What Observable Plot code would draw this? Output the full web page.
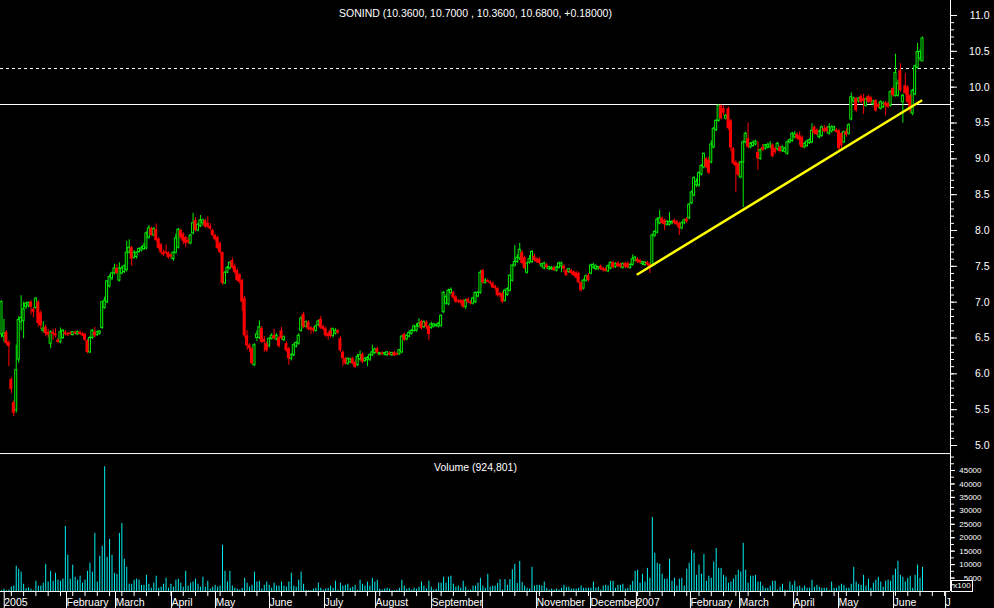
<!DOCTYPE html>
<html><head><meta charset="utf-8">
<script src="https://cdn.jsdelivr.net/npm/d3@7"></script>
<script src="https://cdn.jsdelivr.net/npm/@observablehq/plot@0.6"></script>
<style>
html,body{margin:0;padding:0;background:#000;}
#wrap{position:relative;width:994px;height:608px;background:#000;overflow:hidden;font-family:"Liberation Sans",Arial,sans-serif;}
#price{position:absolute;left:0;top:0;}
#vol{position:absolute;left:0;top:451px;}
#x100{position:absolute;left:951px;top:580px;width:20px;height:10px;border:1px solid #fff;color:#fff;font-size:8px;line-height:10px;text-align:center;font-family:"Liberation Sans",Arial,sans-serif;}
</style></head>
<body><div id="wrap"><div id="price"></div><div id="vol"></div><div id="x100">x100</div></div>
<script>
const titleText = "SONIND (10.3600, 10.7000 , 10.3600, 10.6800, +0.18000)";
const volumeTitle = "Volume (924,801)";
const monthLabels = ["2005","February","March","April","May","June","July","August","September","","November","December","2007","February","March","April","May","June","J"];
const monthTicks = [0.3,25.65,45.6,68.4,86.3,108.3,130.7,151.5,174.3,195.0,217.0,239.0,257.7,279.7,299.7,321.7,340.0,362.4,383.6];
const priceTicks = [5.0,5.5,6.0,6.5,7.0,7.5,8.0,8.5,9.0,9.5,10.0,10.5,11.0];
const volumeTicks = [5000,10000,15000,20000,25000,30000,35000,40000,45000];
const resistanceLevel = 9.758;
const dashedLevel = 10.26;
const trendIdx = [259.0, 374.5];
const trendPrice = [7.39, 9.81];

const opens = [6.55,6.52,6.58,6.44,5.92,5.6,5.49,6.2,6.72,6.74,
6.93,6.95,7.0,6.9,6.92,7.0,6.85,6.6,6.65,6.58,
6.42,6.58,6.56,6.47,6.44,6.5,6.58,6.56,6.57,6.54,
6.58,6.55,6.58,6.56,6.55,6.46,6.3,6.5,6.58,6.54,
6.56,6.64,6.92,7.0,7.22,7.33,7.4,7.47,7.3,7.4,
7.42,7.45,7.69,7.76,7.62,7.63,7.7,7.72,7.74,7.75,
7.9,8.03,7.93,8.01,7.88,7.8,7.69,7.7,7.69,7.66,
7.6,7.69,7.76,8.0,7.95,7.9,7.86,7.82,7.96,8.14,
8.0,8.06,8.1,8.14,8.1,8.06,8.0,7.93,7.9,7.82,
7.69,7.26,7.41,7.47,7.58,7.5,7.44,7.38,7.3,7.05,
6.53,6.4,6.35,6.12,6.5,6.5,6.63,6.48,6.42,6.39,
6.49,6.53,6.48,6.5,6.6,6.47,6.42,6.35,6.21,6.26,
6.38,6.42,6.6,6.83,6.66,6.72,6.64,6.63,6.6,6.68,
6.76,6.66,6.63,6.56,6.6,6.53,6.56,6.6,6.49,6.3,
6.21,6.14,6.16,6.21,6.16,6.12,6.2,6.27,6.18,6.19,
6.2,6.26,6.29,6.35,6.27,6.29,6.27,6.26,6.29,6.26,
6.3,6.28,6.27,6.3,6.55,6.48,6.52,6.56,6.6,6.6,
6.66,6.73,6.65,6.72,6.66,6.64,6.66,6.67,6.66,6.67,
6.86,6.98,6.97,7.13,7.13,7.07,7.02,7.02,7.02,6.93,
7.04,7.0,6.98,7.0,7.08,7.13,7.44,7.27,7.3,7.28,
7.26,7.22,7.19,7.12,7.12,7.02,7.1,7.16,7.3,7.51,
7.56,7.61,7.69,7.62,7.41,7.55,7.56,7.64,7.6,7.6,
7.5,7.47,7.52,7.46,7.46,7.48,7.44,7.48,7.5,7.5,
7.44,7.42,7.44,7.42,7.41,7.4,7.27,7.19,7.3,7.37,
7.4,7.48,7.46,7.47,7.5,7.47,7.46,7.43,7.47,7.55,
7.49,7.54,7.53,7.48,7.54,7.54,7.48,7.52,7.58,7.6,
7.58,7.53,7.52,7.55,7.53,7.51,7.93,7.97,8.1,8.17,
8.14,8.08,8.08,8.1,8.14,8.12,8.1,8.03,8.1,8.16,
8.17,8.38,8.49,8.63,8.63,8.78,8.88,9.0,8.98,8.95,
9.16,9.4,9.53,9.74,9.7,9.56,9.7,9.53,9.14,8.95,
8.93,8.74,8.95,9.23,9.28,9.16,9.18,9.2,9.09,9.0,
9.16,9.14,9.16,9.16,9.19,9.14,9.13,9.16,9.11,9.1,
9.07,9.23,9.25,9.3,9.34,9.32,9.3,9.16,9.18,9.22,
9.23,9.44,9.4,9.3,9.32,9.42,9.43,9.35,9.38,9.4,
9.4,9.39,9.35,9.23,9.38,9.35,9.55,9.8,9.84,9.8,
9.87,9.84,9.74,9.87,9.85,9.76,9.81,9.76,9.7,9.72,
9.78,9.77,9.74,9.98,9.88,9.88,10.23,9.79,10.02,10.0,
9.88,9.63,9.9,10.27,10.4,10.36];

const highs = [7.02,6.76,6.6,6.46,5.95,5.62,6.4,6.8,7.09,7.0,
7.0,7.0,7.02,6.92,7.06,7.02,6.88,6.73,6.68,6.62,
6.6,6.62,6.63,6.5,6.64,6.62,6.6,6.58,6.59,6.59,
6.6,6.6,6.6,6.58,6.57,6.48,6.52,6.62,6.65,6.6,
6.6,7.0,7.07,7.3,7.38,7.42,7.53,7.52,7.55,7.5,
7.52,7.85,7.87,7.78,7.72,7.7,7.76,7.78,7.82,7.98,
8.07,8.05,8.04,8.09,7.9,7.82,7.73,7.8,7.7,7.68,
7.7,7.95,8.03,8.02,7.97,7.92,7.9,7.95,8.24,8.18,
8.1,8.21,8.16,8.16,8.19,8.1,8.02,7.95,7.92,7.84,
7.7,7.43,7.5,7.56,7.62,7.53,7.46,7.4,7.32,7.08,
6.6,6.42,6.37,6.42,6.6,6.74,6.66,6.52,6.44,6.5,
6.56,6.62,6.56,6.52,6.65,6.53,6.45,6.37,6.28,6.42,
6.45,6.56,6.8,6.86,6.74,6.74,6.66,6.65,6.68,6.75,
6.8,6.68,6.65,6.58,6.64,6.64,6.63,6.62,6.52,6.32,
6.23,6.22,6.22,6.23,6.18,6.27,6.32,6.29,6.23,6.24,
6.28,6.4,6.36,6.37,6.3,6.31,6.3,6.31,6.31,6.3,
6.31,6.3,6.34,6.53,6.57,6.55,6.6,6.62,6.68,6.7,
6.77,6.75,6.74,6.74,6.68,6.72,6.7,6.7,6.72,6.82,
7.15,7.1,7.18,7.2,7.15,7.09,7.04,7.04,7.04,7.04,
7.06,7.02,7.07,7.14,7.15,7.44,7.46,7.33,7.32,7.3,
7.28,7.24,7.21,7.14,7.14,7.18,7.2,7.38,7.52,7.79,
7.66,7.82,7.72,7.64,7.56,7.65,7.72,7.67,7.62,7.62,
7.54,7.56,7.54,7.5,7.5,7.5,7.5,7.56,7.56,7.52,
7.46,7.47,7.46,7.44,7.43,7.42,7.29,7.32,7.38,7.4,
7.53,7.54,7.52,7.5,7.52,7.49,7.48,7.52,7.56,7.57,
7.55,7.56,7.55,7.55,7.56,7.56,7.54,7.66,7.64,7.62,
7.6,7.57,7.57,7.57,7.55,7.95,8.0,8.18,8.28,8.19,
8.16,8.14,8.25,8.14,8.16,8.14,8.12,8.12,8.16,8.18,
8.38,8.55,8.75,8.72,8.82,8.92,9.08,9.02,9.02,9.25,
9.44,9.55,9.75,9.75,9.74,9.62,9.72,9.55,9.16,8.98,
8.95,8.96,9.25,9.37,9.5,9.23,9.25,9.26,9.24,9.14,
9.2,9.2,9.22,9.24,9.21,9.16,9.23,9.18,9.18,9.16,
9.25,9.28,9.37,9.38,9.36,9.38,9.32,9.23,9.26,9.28,
9.49,9.46,9.42,9.4,9.46,9.47,9.45,9.49,9.46,9.46,
9.42,9.41,9.37,9.39,9.42,9.49,9.92,9.86,9.86,9.85,
9.89,9.9,9.85,9.89,9.87,9.82,9.83,9.78,9.81,9.8,
9.8,9.79,9.95,10.0,10.46,10.1,10.33,9.9,10.19,10.02,
9.9,9.97,10.31,10.61,10.52,10.7];

const lows = [6.5,6.44,6.4,6.1,5.72,5.4,5.45,6.15,6.6,6.49,
6.9,6.92,6.82,6.78,6.9,6.65,6.62,6.57,6.52,6.5,
6.35,6.47,6.5,6.42,6.42,6.48,6.53,6.52,6.54,6.53,
6.54,6.54,6.54,6.52,6.45,6.28,6.28,6.48,6.5,6.52,
6.54,6.62,6.9,6.98,7.2,7.3,7.38,7.38,7.28,7.38,
7.4,7.42,7.67,7.5,7.6,7.6,7.68,7.7,7.72,7.73,
7.88,7.92,7.92,7.84,7.73,7.66,7.64,7.66,7.6,7.6,
7.57,7.67,7.74,7.88,7.8,7.76,7.8,7.8,7.94,7.98,
7.98,8.04,8.06,8.03,8.03,8.0,7.91,7.85,7.73,7.67,
7.24,7.25,7.4,7.45,7.46,7.39,7.28,7.25,6.87,6.5,
6.33,6.3,6.12,6.1,6.45,6.48,6.42,6.3,6.3,6.36,
6.47,6.48,6.46,6.36,6.47,6.45,6.3,6.12,6.18,6.24,
6.36,6.4,6.58,6.63,6.64,6.6,6.55,6.57,6.58,6.66,
6.62,6.6,6.51,6.47,6.5,6.5,6.54,6.55,6.3,6.1,
6.12,6.12,6.14,6.12,6.07,6.1,6.18,6.14,6.16,6.1,
6.17,6.24,6.27,6.27,6.25,6.25,6.25,6.24,6.25,6.24,
6.24,6.25,6.26,6.28,6.45,6.46,6.5,6.54,6.58,6.58,
6.64,6.61,6.63,6.62,6.46,6.62,6.64,6.65,6.64,6.65,
6.84,6.96,6.95,7.1,7.04,6.98,6.98,6.96,6.91,6.9,
6.98,6.96,6.96,6.98,7.06,7.11,7.25,7.25,7.27,7.24,
7.19,7.16,7.07,7.06,6.98,7.0,7.08,7.14,7.28,7.49,
7.54,7.58,7.52,7.45,7.39,7.53,7.54,7.56,7.54,7.52,
7.48,7.45,7.46,7.44,7.44,7.43,7.42,7.46,7.41,7.41,
7.36,7.4,7.38,7.36,7.32,7.26,7.14,7.17,7.28,7.28,
7.38,7.46,7.44,7.44,7.44,7.42,7.42,7.41,7.45,7.46,
7.47,7.48,7.47,7.46,7.47,7.46,7.46,7.5,7.56,7.54,
7.53,7.51,7.5,7.5,7.4,7.49,7.9,7.95,8.08,8.08,
8.0,8.06,8.06,8.08,8.08,8.06,7.93,8.01,8.08,8.1,
8.15,8.36,8.47,8.6,8.6,8.76,8.86,8.86,8.78,8.93,
9.14,9.38,9.51,9.54,9.6,9.54,9.4,9.1,8.91,8.53,
8.75,8.72,8.32,9.21,9.14,9.14,9.16,9.18,8.84,8.98,
9.1,9.12,9.14,9.14,9.01,9.06,9.11,9.08,9.09,9.08,
9.05,9.21,9.23,9.28,9.26,9.18,9.14,9.14,9.16,9.2,
9.21,9.33,9.32,9.28,9.3,9.36,9.36,9.33,9.36,9.38,
9.36,9.12,9.14,9.21,9.3,9.33,9.53,9.78,9.65,9.78,
9.77,9.62,9.72,9.77,9.76,9.74,9.65,9.7,9.68,9.7,
9.6,9.7,9.72,9.86,9.86,9.86,9.93,9.5,9.89,9.77,
9.63,9.6,9.88,10.25,10.36,10.36];

const closes = [7.0,6.56,6.42,6.38,5.78,5.45,6.05,6.75,6.78,6.9,
6.98,6.99,6.93,6.86,7.05,6.7,6.67,6.63,6.56,6.54,
6.58,6.55,6.53,6.44,6.58,6.6,6.55,6.54,6.55,6.58,
6.56,6.58,6.55,6.53,6.47,6.3,6.5,6.6,6.53,6.58,
6.59,7.0,7.02,7.29,7.35,7.4,7.47,7.4,7.47,7.47,
7.5,7.69,7.76,7.6,7.69,7.69,7.74,7.75,7.78,7.96,
8.03,7.93,8.02,7.86,7.75,7.69,7.66,7.68,7.62,7.63,
7.69,7.89,8.01,7.9,7.85,7.82,7.83,7.93,8.1,8.0,
8.08,8.14,8.14,8.05,8.05,8.02,7.93,7.87,7.75,7.69,
7.26,7.41,7.48,7.55,7.48,7.41,7.3,7.28,7.0,6.53,
6.39,6.35,6.14,6.4,6.55,6.65,6.44,6.44,6.32,6.49,
6.53,6.49,6.53,6.38,6.49,6.51,6.32,6.21,6.26,6.4,
6.43,6.53,6.77,6.65,6.72,6.62,6.61,6.6,6.66,6.73,
6.64,6.62,6.53,6.52,6.52,6.62,6.6,6.57,6.32,6.21,
6.14,6.21,6.2,6.14,6.09,6.24,6.26,6.16,6.21,6.22,
6.26,6.3,6.34,6.29,6.29,6.27,6.29,6.3,6.26,6.29,
6.25,6.26,6.33,6.52,6.47,6.53,6.57,6.6,6.66,6.66,
6.7,6.63,6.72,6.65,6.55,6.69,6.69,6.68,6.7,6.81,
7.13,7.07,7.16,7.17,7.06,7.0,7.0,6.99,6.93,7.02,
7.0,6.98,7.05,7.13,7.13,7.41,7.27,7.3,7.28,7.26,
7.2,7.19,7.09,7.09,7.0,7.16,7.18,7.37,7.51,7.56,
7.62,7.73,7.54,7.47,7.54,7.6,7.7,7.58,7.56,7.54,
7.53,7.54,7.48,7.49,7.48,7.44,7.48,7.54,7.54,7.46,
7.37,7.46,7.4,7.37,7.34,7.27,7.16,7.3,7.36,7.3,
7.51,7.52,7.5,7.49,7.46,7.44,7.43,7.5,7.55,7.48,
7.53,7.5,7.49,7.53,7.49,7.48,7.52,7.6,7.62,7.56,
7.55,7.56,7.55,7.52,7.5,7.93,7.98,8.15,8.17,8.1,
8.08,8.12,8.12,8.12,8.1,8.08,8.03,8.1,8.14,8.12,
8.36,8.53,8.73,8.68,8.8,8.9,9.07,8.88,8.8,9.2,
9.42,9.53,9.74,9.56,9.64,9.6,9.42,9.15,8.93,8.9,
8.77,8.95,9.23,9.35,9.16,9.21,9.22,9.24,9.0,9.12,
9.12,9.19,9.19,9.2,9.03,9.09,9.21,9.1,9.16,9.14,
9.23,9.26,9.35,9.34,9.28,9.26,9.16,9.21,9.24,9.26,
9.39,9.35,9.34,9.38,9.44,9.38,9.38,9.44,9.44,9.44,
9.37,9.14,9.18,9.37,9.33,9.47,9.86,9.84,9.67,9.84,
9.79,9.8,9.83,9.79,9.79,9.8,9.67,9.72,9.79,9.77,
9.74,9.72,9.93,9.88,10.2,10.05,9.95,9.88,9.91,9.79,
9.67,9.95,10.29,10.49,10.49,10.68];

const volumes = [300,900,200,500,1600,2000,9400,8300,7200,2700,
1000,1400,900,300,3800,2000,2000,3100,10100,3500,
7500,3800,6800,4200,3800,4600,24200,13500,4600,9800,
5300,4200,5700,3100,4200,7500,10500,7200,21600,3500,
13100,16800,46400,12700,19400,13500,6800,6400,21600,25300,
12000,9000,2700,2700,4200,4600,4200,2300,2300,6000,
2700,1200,3100,5700,1200,1600,2700,4900,1200,2700,
1600,4200,4600,3100,1600,7500,2000,3100,3500,4600,
2700,1600,5300,1600,3800,900,1600,2300,1600,2000,
17200,7500,3500,7500,2000,1200,900,500,1200,4900,
3100,1600,2300,7200,3500,3800,900,2300,3500,2300,
1200,3100,2000,2000,3500,2000,1600,3500,6800,2000,
1600,4200,7200,2700,500,300,300,900,1200,3100,
1200,500,900,1200,2000,1200,3800,500,3100,2000,
2300,2700,1200,1600,2300,500,4200,2700,2000,3500,
2000,4900,3500,4200,900,500,900,1200,900,300,
300,500,1200,4200,2000,900,1200,500,1200,900,
1600,3500,2000,1000,3800,1600,500,900,3100,3100,
5300,3100,5300,5700,2700,1600,2000,1200,3800,1600,
500,500,2000,2000,3100,4900,2000,1200,6400,1600,
2000,2000,3000,4400,500,4400,2300,4400,8100,10100,
3000,11200,3300,2000,1200,900,9000,2000,2300,2300,
2000,3500,1200,500,900,500,900,500,1200,2300,
1600,1600,900,900,900,1200,2000,1200,1200,1200,
1200,3500,1200,1600,500,2000,2300,2000,3800,3800,
1200,2300,2300,2700,900,1200,2300,3800,7500,7900,
3100,6400,3500,8600,4900,27500,14200,10500,10100,6400,
4600,4600,12000,3800,4900,2000,4600,4900,2000,8300,
10500,15300,14200,6000,9800,6400,13800,3800,5700,4900,
10900,16000,8600,8600,6000,5300,3100,3500,4600,6000,
7900,7200,17900,7900,3100,5700,5700,6000,3500,3500,
2000,1200,1200,2000,3800,3800,500,1600,2700,500,
300,3500,2300,3800,1600,2000,1200,2000,1200,1200,
4200,1600,2300,1600,1200,1200,1200,300,3500,1200,
1200,2000,2700,2300,1200,1200,2700,9000,3500,2700,
2300,6000,2000,4600,1200,3100,4200,5300,3500,1600,
3800,4200,3800,6000,8300,11200,6000,5300,3500,4900,
5700,1200,6000,9800,4900,9000];

const GREEN = "#00f000", RED = "#ff0000", CYAN = "#00eef0", YELLOW = "#ffff00", WHITE = "#ffffff";
const FONT = "Liberation Sans, Arial, sans-serif";
const xDomain = [-0.41, 386.4];

const bars = opens.map((o, i) => ({i, o, h: highs[i], l: lows[i], c: closes[i], v: volumes[i]}));
const up = bars.filter(d => d.c >= d.o);
const down = bars.filter(d => d.c < d.o);
const trend = trendIdx.map((x, k) => ({x, y: trendPrice[k]}));
const monthLabelOf = new Map(monthTicks.map((t, k) => [t, monthLabels[k]]));
const minorPrice = d3.range(50, 111).map(d => d / 10);
const minorVolume = d3.range(2500, 50001, 2500);
const weekTicks = d3.range(4, 386, 5);

const priceChart = Plot.plot({
  width: 994, height: 451,
  marginLeft: 0, marginRight: 44, marginTop: 0, marginBottom: 0,
  style: {background: "#000", color: WHITE, fontFamily: FONT, fontSize: "10px"},
  x: {domain: xDomain, axis: null},
  y: {domain: [5, 11], range: [445, 15]},
  marks: [
    Plot.axisY(minorPrice, {anchor: "right", tickSize: 3, tickFormat: () => "", label: null}),
    Plot.axisY(priceTicks, {anchor: "right", tickSize: 6, tickPadding: 33, textAnchor: "end", tickFormat: d => d.toFixed(1), fontSize: 10.5, label: null}),
    Plot.ruleX([xDomain[1]], {stroke: WHITE}),
    Plot.ruleY([resistanceLevel], {stroke: WHITE}),
    Plot.ruleY([dashedLevel], {stroke: WHITE, strokeDasharray: "3,3"}),
    Plot.ruleX(up, {x: "i", y1: "l", y2: "h", stroke: GREEN}),
    Plot.ruleX(down, {x: "i", y1: "l", y2: "h", stroke: RED}),
    Plot.rect(up, {x1: d => d.i - 0.41, x2: d => d.i + 0.41, y1: "o", y2: d => Math.max(d.c, d.o + 0.005), fill: "#000", stroke: GREEN, strokeWidth: 1}),
    Plot.rect(down, {x1: d => d.i - 0.61, x2: d => d.i + 0.61, y1: "o", y2: d => (d.o - d.c < 0.015 ? d.o - 0.015 : d.c), fill: RED}),
    Plot.line(trend, {x: "x", y: "y", stroke: YELLOW, strokeWidth: 2.5}),
    Plot.text([titleText], {frameAnchor: "top", dy: 9, fill: WHITE, fontSize: 10.5})
  ]
});
document.getElementById("price").appendChild(priceChart);

const volChart = Plot.plot({
  width: 994, height: 157,
  marginLeft: 0, marginRight: 44, marginTop: 0, marginBottom: 17,
  style: {background: "transparent", color: WHITE, fontFamily: FONT, fontSize: "10px"},
  x: {domain: xDomain},
  y: {domain: [0, 45000], range: [140, 19]},
  marks: [
    Plot.ruleY([51300], {stroke: WHITE}),
    Plot.ruleX([xDomain[1]], {stroke: WHITE}),
    Plot.ruleX(bars, {x: "i", y1: 0, y2: "v", stroke: CYAN}),
    Plot.ruleY([0], {stroke: WHITE}),
    Plot.axisY(minorVolume, {anchor: "right", tickSize: 3, tickFormat: () => "", label: null}),
    Plot.axisY(volumeTicks, {anchor: "right", tickSize: 4, tickPadding: 27, textAnchor: "end", fontSize: 8, tickFormat: d => String(d), label: null}),
    Plot.axisX(weekTicks, {anchor: "bottom", tickSize: 5, tickFormat: () => "", label: null}),
    Plot.axisX(monthTicks, {anchor: "bottom", tickSize: 17, tickPadding: -10, textAnchor: "start", dx: 2, tickFormat: d => monthLabelOf.get(d), fontSize: 10.5, label: null}),
    Plot.text([volumeTitle], {frameAnchor: "top", dy: 12, fill: WHITE, fontSize: 10.5})
  ]
});
document.getElementById("vol").appendChild(volChart);
</script>
</body></html>
